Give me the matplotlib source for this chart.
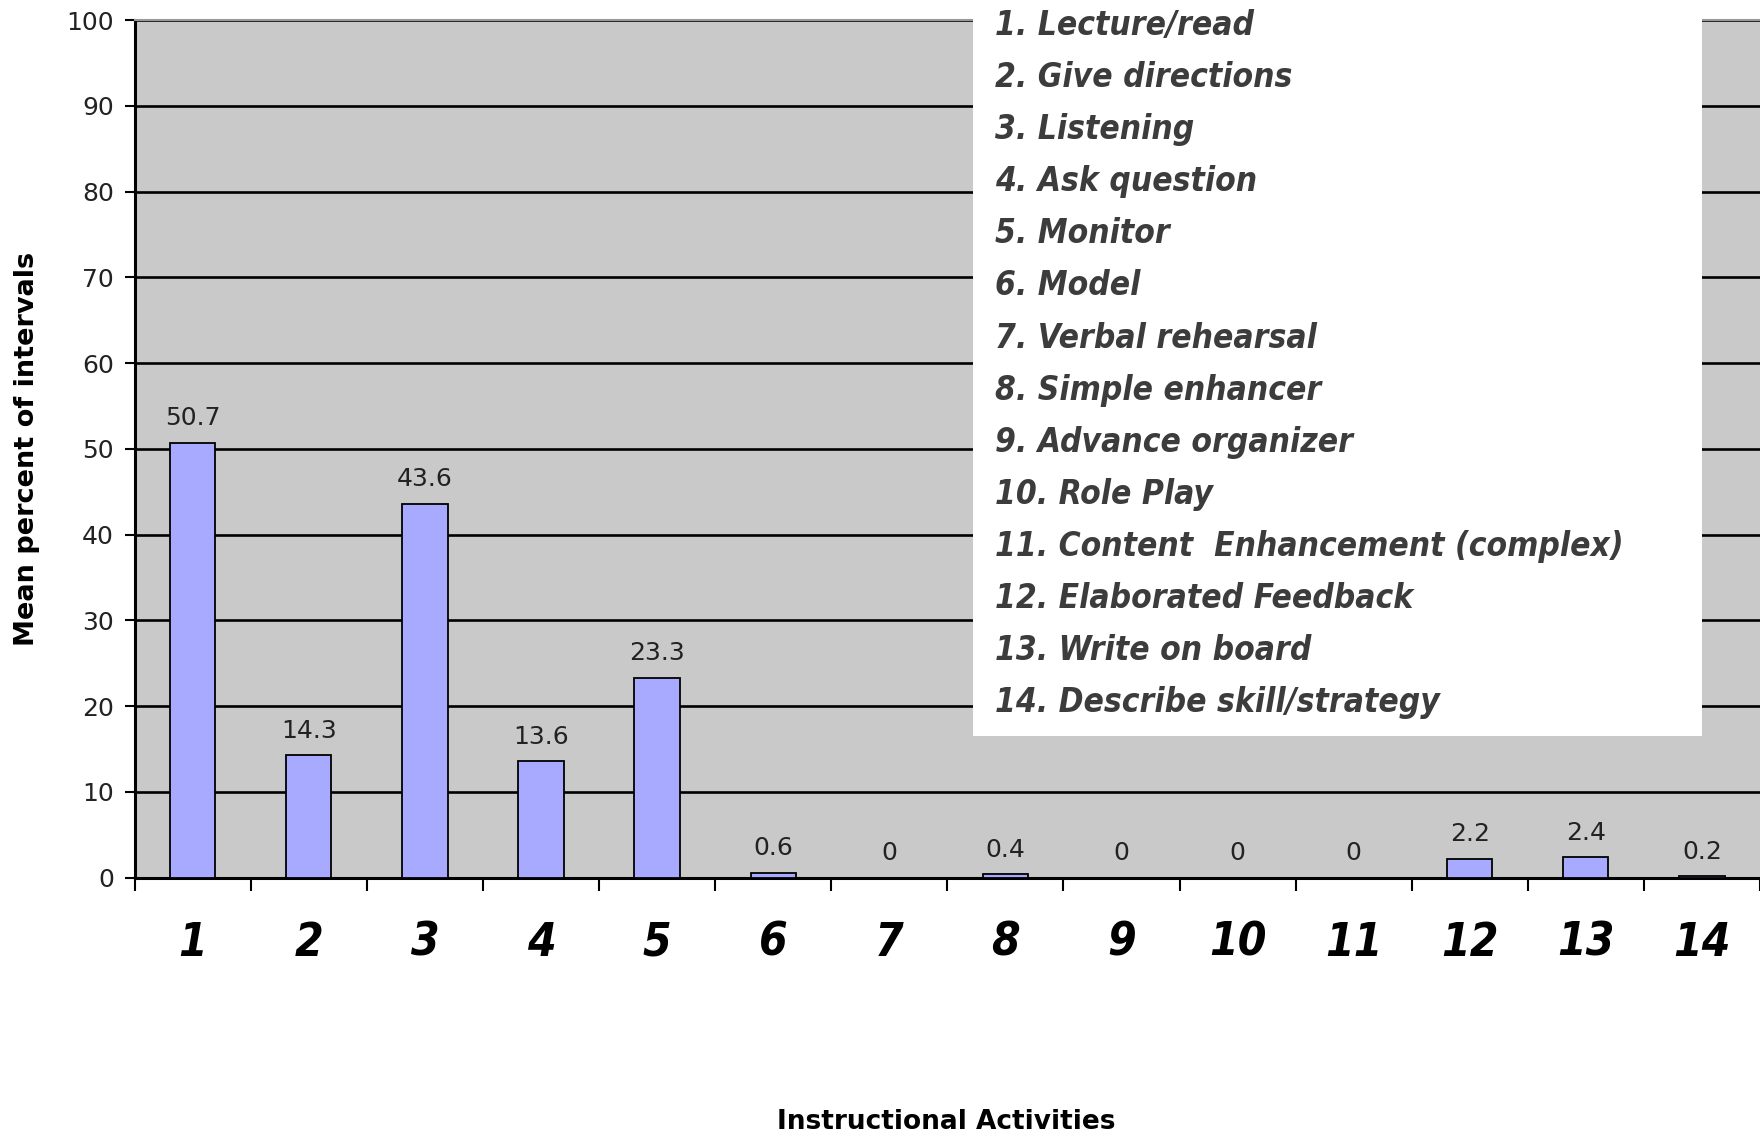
import matplotlib
matplotlib.use("Agg")
import matplotlib.pyplot as plt
from matplotlib.patches import Rectangle

# data
activities = ["Lecture/read", "Give directions", "Listening", "Ask question",
              "Monitor", "Model", "Verbal rehearsal", "Simple enhancer",
              "Advance organizer", "Role Play", "Content  Enhancement (complex)",
              "Elaborated Feedback", "Write on board", "Describe skill/strategy"]
category_ids = list(range(1, 15))
mean_percent = [50.7, 14.3, 43.6, 13.6, 23.3, 0.6, 0, 0.4, 0, 0, 0, 2.2, 2.4, 0.2]
y_ticks = [0, 10, 20, 30, 40, 50, 60, 70, 80, 90, 100]

narrow = ["DejaVu Sans", "Liberation Sans"]

fig = plt.figure(figsize=(17.6, 11.37), dpi=100)
ax = fig.add_axes([0.0765, 0.228, 0.9235, 0.7544])
ax.set_facecolor("#c9c9c9")

ax.bar(category_ids, mean_percent, width=0.39, color="#a8aaff",
       edgecolor="black", linewidth=1.3, zorder=3)

for x, v in zip(category_ids, mean_percent):
    ax.annotate(f"{v:g}", (x, v), xytext=(0, 9), textcoords="offset points",
                ha="center", va="bottom", fontsize=18, color="#222222")

ax.set_xlim(0.5, 14.5)
ax.set_ylim(0, 100)
ax.set_yticks(y_ticks)
ax.yaxis.grid(True, color="black", linewidth=1.9, zorder=1)
ax.set_axisbelow(True)
ax.tick_params(axis="y", labelsize=18, length=7, width=1.5, direction="out",
               pad=8, labelcolor="#222222")

# boundary ticks, big labels at category centres
ax.set_xticks([i + 0.5 for i in range(0, 15)])
ax.set_xticklabels([])
ax.tick_params(axis="x", which="major", length=9, width=1.5, direction="out")
ax.set_xticks(category_ids, minor=True)
ax.set_xticklabels([str(c) for c in category_ids], minor=True,
                   fontsize=33, fontweight="bold", fontstyle="italic",
                   fontstretch="condensed", family=narrow)
ax.tick_params(axis="x", which="minor", length=0, pad=31)

for s in ["left", "bottom"]:
    ax.spines[s].set_linewidth(2.2)
ax.spines["right"].set_visible(False)
ax.spines["top"].set_color("#999999")
ax.spines["top"].set_linewidth(1.5)

ax.set_ylabel("Mean percent of intervals", fontsize=19.5, fontweight="bold")
ax.yaxis.set_label_coords(-0.058, 0.5)
fig.text(0.5375, 0.0132, "Instructional Activities", ha="center", va="center",
         fontsize=19, fontweight="bold")

# pasted legend box with the activity names
fig.patches.append(Rectangle((0.553, 0.3527), 0.414, 0.6473,
                             transform=fig.transFigure, facecolor="white",
                             edgecolor="none", zorder=5))
for i, name in enumerate(activities):
    fig.text(0.5655, 0.9775 - i * 0.0458, f"{i + 1}. {name}",
             ha="left", va="center", fontsize=24, fontweight="bold",
             fontstyle="italic", fontstretch="condensed", family=narrow,
             color="#3c3c3c", zorder=6)

fig.savefig("out.png", dpi=100)
